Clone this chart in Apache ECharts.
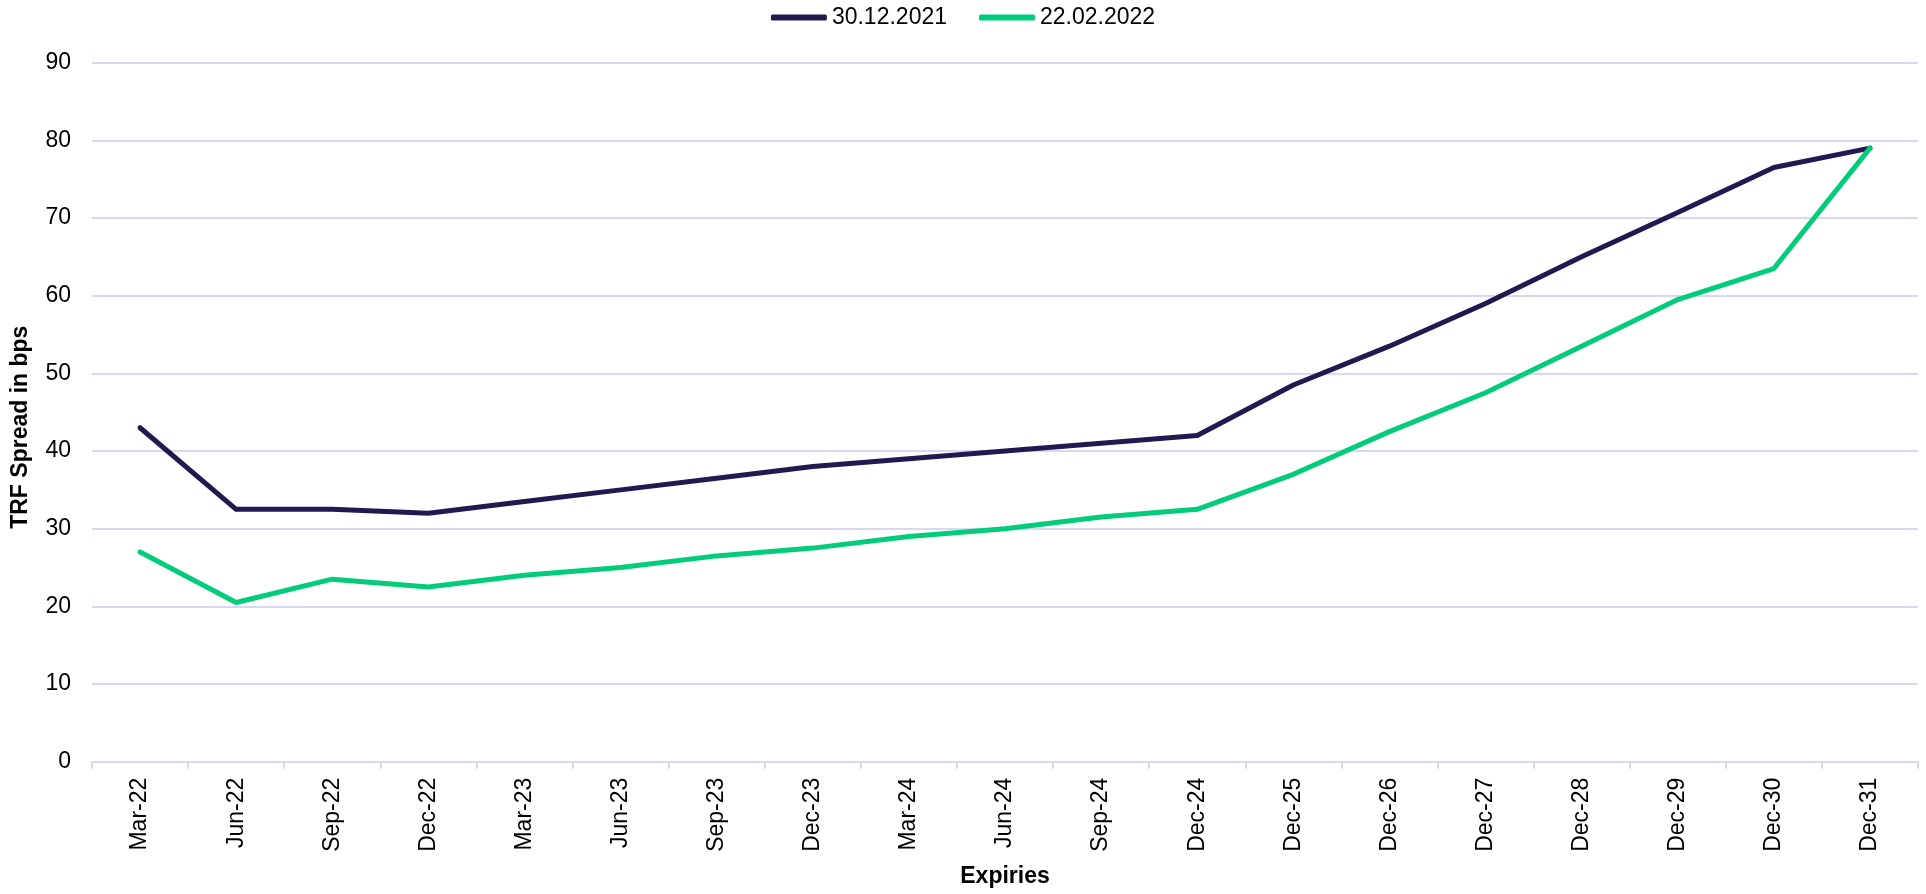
<!DOCTYPE html>
<html>
<head>
<meta charset="utf-8">
<style>
  html, body { margin: 0; padding: 0; background: #ffffff; }
  #chart { width: 1926px; height: 894px; }
</style>
<script src="https://cdn.jsdelivr.net/npm/echarts@6/dist/echarts.min.js"></script>
</head>
<body>
<div id="chart"></div>
<script>
// Expiry buckets on the x axis
const expiries = ['Mar-22', 'Jun-22', 'Sep-22', 'Dec-22', 'Mar-23', 'Jun-23', 'Sep-23', 'Dec-23',
  'Mar-24', 'Jun-24', 'Sep-24', 'Dec-24', 'Dec-25', 'Dec-26', 'Dec-27', 'Dec-28', 'Dec-29', 'Dec-30', 'Dec-31'];

// TRF spread (bps) as of 30.12.2021
const spread20211230 = [43, 32.5, 32.5, 32, 33.5, 35, 36.5, 38, 39, 40, 41, 42, 48.5, 53.5, 59, 65, 70.7, 76.5, 79];

// TRF spread (bps) as of 22.02.2022
const spread20220222 = [27, 20.5, 23.5, 22.5, 24, 25, 26.5, 27.5, 29, 30, 31.5, 32.5, 37, 42.5, 47.5, 53.5, 59.5, 63.5, 79];

const seriesNames = ['30.12.2021', '22.02.2022'];

const FONT = 'Liberation Sans';
const FONT_SIZE = 23;
const NAVY = '#211a50';
const GREEN = '#00cc7a';
const GRID_COLOR = '#d9d8f2';

const chart = echarts.init(document.getElementById('chart'));

chart.setOption({
  animation: false,
  textStyle: { fontFamily: FONT, color: '#000' },
  legend: {
    top: 1,
    left: 'center',
    icon: 'roundRect',
    itemWidth: 56,
    itemHeight: 6,
    itemGap: 32,
    textStyle: { fontSize: FONT_SIZE, color: '#000', fontFamily: FONT },
    data: seriesNames
  },
  grid: {
    left: 92,
    right: 8,
    top: 62.7,
    bottom: 132.3,
    containLabel: false,
    outerBoundsMode: 'none'
  },
  xAxis: {
    type: 'category',
    data: expiries,
    boundaryGap: true,
    name: 'Expiries',
    nameLocation: 'middle',
    nameGap: 103,
    nameTextStyle: { fontSize: FONT_SIZE, fontWeight: 'bold', color: '#000', fontFamily: FONT },
    axisLine: { lineStyle: { color: GRID_COLOR, width: 2 } },
    axisTick: { show: true, length: 7, lineStyle: { color: GRID_COLOR, width: 2 } },
    axisLabel: {
      rotate: 90,
      fontSize: FONT_SIZE,
      color: '#000',
      margin: 16,
      fontFamily: FONT,
      interval: 0,
      hideOverlap: false
    }
  },
  yAxis: {
    type: 'value',
    min: 0,
    max: 90,
    interval: 10,
    name: 'TRF Spread in bps',
    nameLocation: 'middle',
    nameGap: 60,
    nameTextStyle: {
      fontSize: FONT_SIZE,
      fontWeight: 'bold',
      color: '#000',
      fontFamily: FONT,
      padding: [0, 30, 0, 0]
    },
    axisLine: { show: false },
    axisTick: { show: false },
    axisLabel: { fontSize: FONT_SIZE, color: '#000', margin: 21, fontFamily: FONT },
    splitLine: { lineStyle: { color: GRID_COLOR, width: 2 } }
  },
  series: [
    {
      name: seriesNames[0],
      type: 'line',
      data: spread20211230,
      symbol: 'none',
      color: NAVY,
      lineStyle: { color: NAVY, width: 5, cap: 'round', join: 'round' }
    },
    {
      name: seriesNames[1],
      type: 'line',
      data: spread20220222,
      symbol: 'none',
      color: GREEN,
      lineStyle: { color: GREEN, width: 5, cap: 'round', join: 'round' }
    }
  ]
});
</script>
</body>
</html>
